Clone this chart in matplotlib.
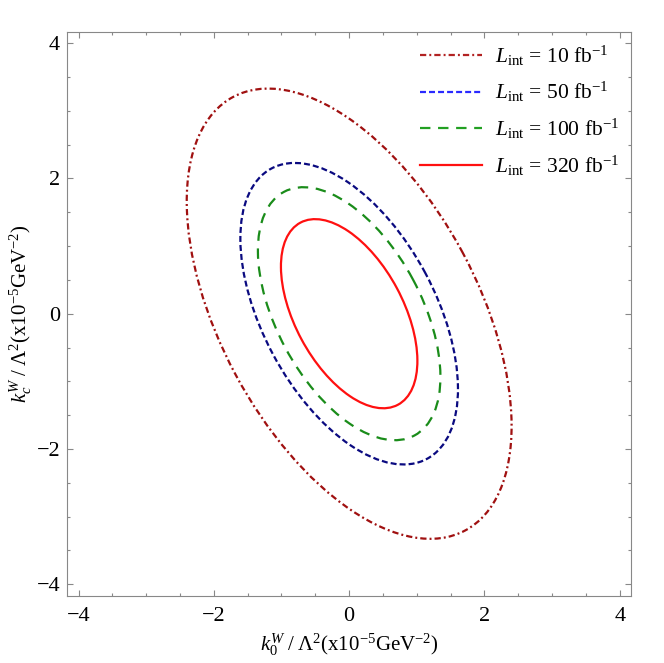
import matplotlib
matplotlib.use("Agg")
import matplotlib.pyplot as plt
from matplotlib.patches import Ellipse
from matplotlib.lines import Line2D
from matplotlib.ticker import MultipleLocator

plt.rcParams['font.family'] = ['Liberation Serif', 'DejaVu Serif']
plt.rcParams['mathtext.fontset'] = 'custom'
plt.rcParams['mathtext.rm'] = 'Liberation Serif'
plt.rcParams['mathtext.it'] = 'Liberation Serif:italic'
plt.rcParams['mathtext.bf'] = 'Liberation Serif:bold'
plt.rcParams['lines.scale_dashes'] = False

# Data: confidence ellipses for each integrated luminosity
luminosities = [10, 50, 100, 320]
semi_major = [3.635, 2.435, 2.043, 1.527]
semi_minor = [1.905, 1.276, 1.070, 0.800]
angle_deg = [118.15, 118.15, 118.15, 118.15]
center_x = [0.0, 0.0, 0.0, 0.0]
center_y = [0.0, 0.0, 0.0, 0.0]

plot_colors = ['#a01010', '#0a0a80', '#1a8c1a', '#ff1010']
legend_colors = ['#b22222', '#2a2aff', '#22a022', '#ff1010']
styles = [(0, (4.5, 2.2, 1.4, 2.2)), (0, (4.3, 2.2)), (0, (7.5, 5.5)), '-']

fig = plt.figure(figsize=(6.64, 6.63), dpi=100)
ax = fig.add_axes([0.1009, 0.1015, 0.8499, 0.8507])

handles = []
for L, a, b, ang, cx, cy, pc, lc, ls in zip(luminosities, semi_major, semi_minor,
                                            angle_deg, center_x, center_y,
                                            plot_colors, legend_colors, styles):
    e = Ellipse((cx, cy), 2 * a, 2 * b, angle=ang, fill=False,
                edgecolor=pc, linestyle=ls, linewidth=1.6)
    ax.add_patch(e)
    handles.append(Line2D([], [], color=lc, linestyle=ls, linewidth=1.6,
                          label=r'$L_{\rm int}$ = %d fb$^{-1}$' % L))

ax.set_xlim(-4.17, 4.17)
ax.set_ylim(-4.17, 4.17)
ax.xaxis.set_major_locator(MultipleLocator(2))
ax.yaxis.set_major_locator(MultipleLocator(2))
ax.xaxis.set_minor_locator(MultipleLocator(0.5))
ax.yaxis.set_minor_locator(MultipleLocator(0.5))
ax.tick_params(which='both', direction='in', top=True, right=True,
               color='#888888', labelsize=16, width=0.8)
ax.tick_params(axis='x', which='major', length=4.5, pad=8)
ax.tick_params(axis='y', which='major', length=4.5, pad=5)
ax.tick_params(which='minor', length=2.5)
for s in ax.spines.values():
    s.set_color('#888888')
    s.set_linewidth(0.8)

ax.set_xlabel(r'$k_0^W\;/\;\Lambda^2$(x10$^{-5}$GeV$^{-2}$)', fontsize=15, labelpad=4)
ax.set_ylabel(r'$k_c^W\;/\;\Lambda^2$(x10$^{-5}$GeV$^{-2}$)', fontsize=15, labelpad=2)

leg = ax.legend(handles=handles, loc='upper right', frameon=False, fontsize=15.5,
                handlelength=2.9, handletextpad=0.6, labelspacing=0.58,
                borderaxespad=0.25, borderpad=0.3)

fig.savefig('out.png', dpi=100)
